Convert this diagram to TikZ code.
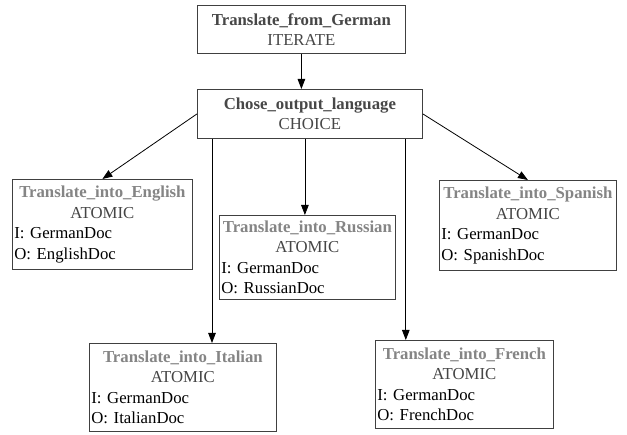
\documentclass[tikz,border=0pt]{standalone}
\usepackage{fontspec}
\setmainfont{Liberation Serif}
\usetikzlibrary{arrows.meta,shadows}

\definecolor{headgray}{HTML}{474747}
\definecolor{leafgray}{HTML}{858585}
\definecolor{kindgray}{HTML}{454545}

\tikzstyle{task}=[shape=rectangle,
                  draw=black!75,
                  fill=white,
                  line width=0.8pt,
                  drop shadow={shadow xshift=1pt,shadow yshift=-1pt,fill=black!70,opacity=1},
                  anchor=north west,
                  inner xsep=2pt,
                  inner ysep=3pt,
                  font=\fontsize{16.75}{20.5}\selectfont]
\tikzstyle{composite}=[task, align=center, text=headgray]
\tikzstyle{leaf}=[task, align=left]

% title, kind and the in/out documents of an atomic task
\newcommand{\atomic}[3]{\makebox[\hsize]{\color{leafgray}\textbf{#1}}\\
  \makebox[\hsize]{\color{kindgray}ATOMIC}\\I: #2\\O: #3}

\begin{document}
\begin{tikzpicture}[x=1pt,y=-1pt,>={Triangle[length=10pt,width=7.5pt]},line width=0.8pt]
\useasboundingbox (0,0) rectangle (627,435);

% composite tasks
\node[composite, text width=204pt, minimum height=48pt] (iter) at (197,5)
  {\textbf{Translate\_from\_German}\\ITERATE};
\node[composite, text width=221pt, minimum height=49pt] (choice) at (197,89)
  {\textbf{Chose\_output\_language}\\CHOICE};

% atomic tasks
\node[leaf, text width=176pt, minimum height=90pt] (english) at (12,179)
  {\atomic{Translate\_into\_English}{GermanDoc}{EnglishDoc}};
\node[leaf, text width=172pt, minimum height=84pt] (russian) at (219,215)
  {\atomic{Translate\_into\_Russian}{GermanDoc}{RussianDoc}};
\node[leaf, text width=173pt, minimum height=90pt] (spanish) at (439,180)
  {\atomic{Translate\_into\_Spanish}{GermanDoc}{SpanishDoc}};
\node[leaf, text width=183pt, minimum height=88pt] (italian) at (89,343)
  {\atomic{Translate\_into\_Italian}{GermanDoc}{ItalianDoc}};
\node[leaf, text width=174pt, minimum height=88pt] (french) at (375,340)
  {\atomic{Translate\_into\_French}{GermanDoc}{FrenchDoc}};

% paths
\draw[->] (iter.south) -- (iter.south |- choice.north);
\draw[->] (choice.west) -- (english.north);
\draw[->] (choice.east) -- (spanish.north);
\draw[->] ([xshift=-5pt]choice.south) -- ([xshift=-5pt]choice.south |- russian.north);
\draw[->] ([xshift=15pt]choice.south west) -- ([xshift=15pt]choice.south west |- italian.north);
\draw[->] ([xshift=-17pt]choice.south east) -- ([xshift=-17pt]choice.south east |- french.north);

\end{tikzpicture}
\end{document}
